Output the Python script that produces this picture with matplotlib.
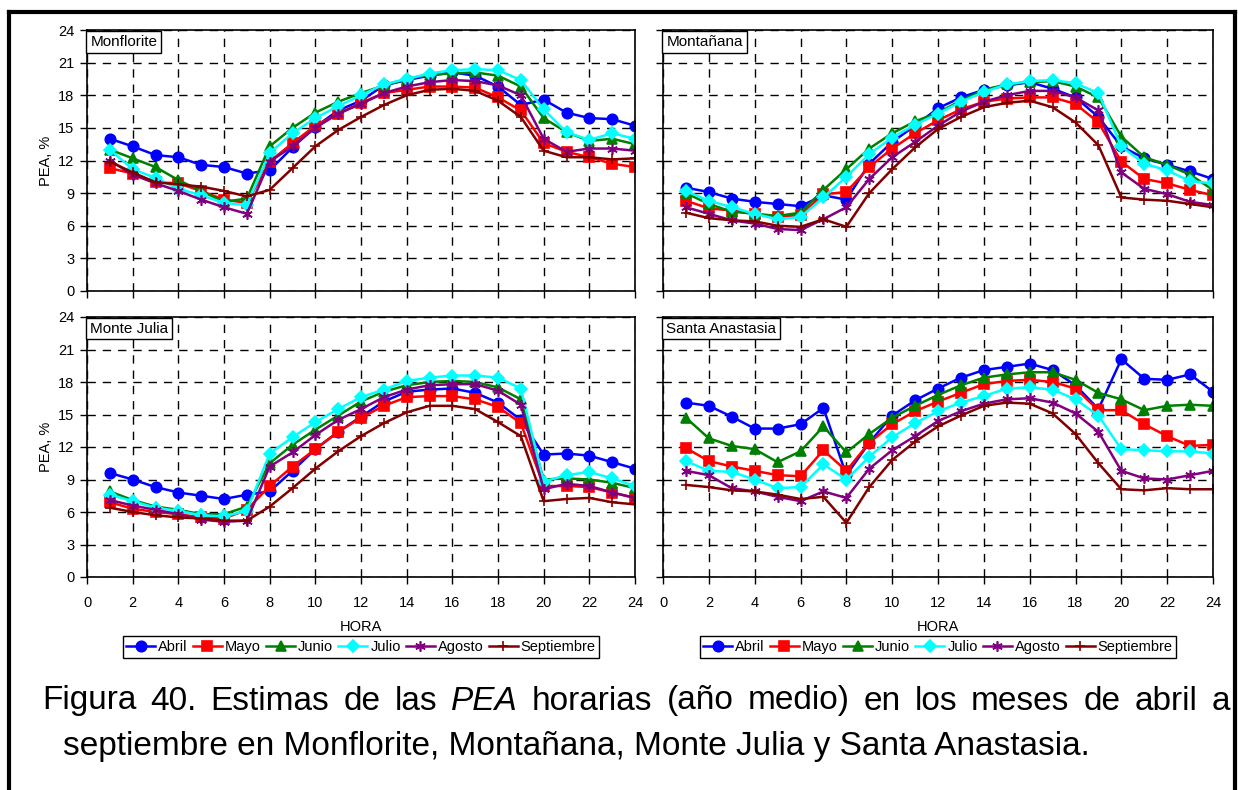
"""
Estimas de las PEA horarias (año medio), abril a septiembre, cuatro estaciones.
"""
import numpy as np
import matplotlib.pyplot as plt
from matplotlib.lines import Line2D

plt.rcParams['font.family'] = ['Liberation Sans', 'DejaVu Sans']

hours = np.arange(1, 25)
months = ['Abril', 'Mayo', 'Junio', 'Julio', 'Agosto', 'Septiembre']
colors = ['#0000FF', '#FF0000', '#008000', '#00FFFF', '#800080', '#800000']
markers = ['o', 's', '^', 'D', (6, 2, 0), '+']

# PEA, % (one row per month, hours 1..24)
monflorite = [
    [14.0, 13.3, 12.5, 12.3, 11.6, 11.4, 10.8, 11.1, 13.2, 15.1, 16.6, 17.5, 18.9, 19.4, 19.8, 20.1, 19.8, 18.8, 17.1, 17.6, 16.4, 15.9, 15.8, 15.2],
    [11.3, 10.8, 10.0, 9.9, 9.2, 8.4, 8.1, 11.9, 13.6, 15.2, 16.3, 17.3, 18.2, 18.5, 18.8, 18.8, 18.7, 17.8, 16.6, 13.6, 12.8, 12.3, 11.7, 11.4],
    [13.0, 12.2, 11.4, 10.2, 9.2, 8.2, 8.5, 13.3, 15.0, 16.4, 17.4, 18.2, 18.9, 19.5, 19.9, 20.0, 20.1, 19.8, 18.8, 15.9, 14.6, 13.8, 14.0, 13.5],
    [13.0, 11.2, 10.4, 9.4, 8.8, 8.1, 7.9, 12.7, 14.5, 15.9, 17.0, 18.0, 19.0, 19.5, 20.0, 20.3, 20.4, 20.3, 19.4, 16.7, 14.6, 13.9, 14.5, 14.0],
    [12.0, 10.7, 9.9, 9.2, 8.4, 7.7, 7.1, 11.9, 13.3, 15.0, 16.3, 17.2, 18.2, 18.8, 19.2, 19.4, 19.3, 18.9, 18.0, 14.0, 12.8, 13.1, 13.1, 12.9],
    [11.9, 10.9, 10.0, 9.8, 9.6, 9.2, 8.7, 9.3, 11.3, 13.3, 14.8, 16.0, 17.1, 18.0, 18.5, 18.6, 18.4, 17.5, 16.0, 12.9, 12.3, 12.3, 12.1, 12.2],
]
montanana = [
    [9.5, 9.1, 8.5, 8.2, 8.0, 7.8, 8.8, 8.4, 11.7, 13.7, 15.2, 16.8, 17.8, 18.5, 18.9, 19.2, 18.6, 17.8, 16.0, 13.3, 12.2, 11.6, 11.0, 10.3],
    [8.3, 7.6, 7.4, 7.1, 6.8, 7.0, 8.9, 9.1, 11.4, 13.1, 14.5, 15.7, 16.7, 17.4, 17.7, 17.8, 17.8, 17.2, 15.5, 11.9, 10.3, 9.9, 9.3, 8.8],
    [9.0, 8.0, 7.3, 7.1, 6.9, 7.2, 9.3, 11.2, 13.1, 14.5, 15.6, 16.4, 17.5, 18.5, 19.0, 19.2, 19.3, 18.8, 17.8, 14.2, 12.3, 11.6, 10.7, 9.3],
    [9.2, 8.3, 7.7, 7.1, 6.6, 6.8, 8.6, 10.5, 12.6, 14.1, 15.3, 16.3, 17.4, 18.3, 19.0, 19.3, 19.4, 19.1, 18.2, 13.3, 11.7, 11.1, 10.1, 9.9],
    [7.7, 7.1, 6.5, 6.2, 5.7, 5.6, 6.6, 7.7, 10.3, 12.3, 13.7, 15.2, 16.5, 17.4, 18.0, 18.4, 18.4, 17.8, 16.6, 10.9, 9.4, 8.9, 8.2, 7.9],
    [7.2, 6.7, 6.5, 6.4, 6.0, 5.9, 6.6, 5.9, 9.0, 11.2, 13.2, 14.9, 16.0, 16.9, 17.3, 17.5, 16.9, 15.5, 13.4, 8.6, 8.4, 8.3, 8.0, 7.7],
]
monte_julia = [
    [9.6, 9.0, 8.3, 7.8, 7.5, 7.2, 7.6, 7.9, 9.8, 11.8, 13.4, 14.8, 16.2, 17.1, 17.3, 17.4, 17.0, 16.1, 14.5, 11.3, 11.4, 11.2, 10.6, 10.0],
    [6.9, 6.3, 6.0, 5.8, 5.5, 5.4, 6.2, 8.4, 10.2, 11.8, 13.4, 14.7, 15.8, 16.6, 16.7, 16.7, 16.4, 15.7, 14.2, 8.4, 8.4, 8.3, 7.8, 7.3],
    [7.9, 7.1, 6.5, 6.2, 5.8, 5.8, 6.5, 10.5, 12.2, 13.6, 14.9, 16.2, 17.1, 17.7, 18.0, 18.1, 18.0, 17.5, 16.4, 9.0, 9.1, 9.0, 8.7, 8.2],
    [7.6, 7.0, 6.4, 6.1, 5.7, 5.6, 6.1, 11.4, 12.9, 14.3, 15.5, 16.6, 17.3, 18.1, 18.4, 18.6, 18.6, 18.4, 17.4, 8.8, 9.4, 9.7, 9.1, 8.4],
    [7.1, 6.6, 6.2, 5.8, 5.3, 5.1, 5.2, 10.2, 11.5, 13.1, 14.5, 15.5, 16.6, 17.3, 17.7, 17.8, 17.8, 17.2, 15.9, 8.1, 8.6, 8.4, 7.8, 7.3],
    [6.4, 6.0, 5.7, 5.5, 5.4, 5.2, 5.2, 6.5, 8.2, 10.0, 11.6, 13.0, 14.2, 15.2, 15.8, 15.8, 15.5, 14.3, 13.0, 7.0, 7.2, 7.3, 6.9, 6.7],
]
santa_anastasia = [
    [16.1, 15.8, 14.8, 13.7, 13.7, 14.1, 15.6, 9.4, 12.4, 14.9, 16.3, 17.4, 18.4, 19.1, 19.4, 19.7, 19.1, 17.7, 15.5, 20.1, 18.3, 18.2, 18.7, 17.1],
    [11.9, 10.7, 10.2, 9.8, 9.4, 9.3, 11.7, 9.8, 12.4, 14.1, 15.3, 16.2, 17.0, 17.8, 18.1, 18.2, 18.0, 17.4, 15.4, 15.4, 14.1, 13.0, 12.1, 12.2],
    [14.7, 12.8, 12.1, 11.8, 10.6, 11.6, 13.9, 11.5, 13.2, 14.7, 15.8, 16.8, 17.7, 18.4, 18.7, 18.9, 18.9, 18.2, 17.0, 16.4, 15.4, 15.8, 15.9, 15.8],
    [10.7, 9.8, 9.7, 9.0, 8.2, 8.3, 10.4, 9.0, 11.1, 12.9, 14.2, 15.3, 16.1, 16.7, 17.4, 17.5, 17.3, 16.4, 14.9, 11.8, 11.7, 11.6, 11.6, 11.4],
    [9.8, 9.4, 8.2, 7.9, 7.4, 7.0, 7.9, 7.3, 10.0, 11.7, 13.0, 14.4, 15.3, 16.0, 16.4, 16.5, 16.1, 15.1, 13.4, 9.8, 9.1, 9.0, 9.4, 9.8],
    [8.5, 8.3, 8.0, 7.9, 7.6, 7.2, 7.4, 5.0, 8.3, 10.8, 12.5, 13.9, 14.9, 15.8, 16.1, 16.0, 15.1, 13.2, 10.5, 8.1, 8.0, 8.2, 8.1, 8.1],
]
stations = ['Monflorite', 'Montañana', 'Monte Julia', 'Santa Anastasia']
station_data = [monflorite, montanana, monte_julia, santa_anastasia]

W, H = 1239, 790
fig = plt.figure(figsize=(W / 100, H / 100), dpi=100)


def px_axes(x0, y0, x1, y1):
    return fig.add_axes([x0 / W, 1 - y1 / H, (x1 - x0) / W, (y1 - y0) / H])


boxes = [(87, 30, 635, 291), (663, 30, 1213, 291),
         (87, 317, 635, 577), (663, 317, 1213, 577)]

for i, (name, data) in enumerate(zip(stations, station_data)):
    ax = px_axes(*boxes[i])
    for vals, m, c, mk in zip(data, months, colors, markers):
        ms = 7.5
        if mk == 'D':
            ms = 6
        ax.plot(hours, vals, color=c, marker=mk, markersize=ms, linewidth=1.8,
                markeredgecolor=c, markerfacecolor=c, markeredgewidth=1.2, label=m)
    ax.set_xlim(0, 24)
    ax.set_ylim(0, 24)
    ax.set_xticks(np.arange(0, 25, 2))
    ax.set_yticks(np.arange(0, 25, 3))
    ax.grid(True, color='black', linestyle=(0, (6, 5)), linewidth=1)
    ax.set_axisbelow(True)
    ax.tick_params(direction='out', length=5, width=1, labelsize=10.5, pad=4)
    for s in ax.spines.values():
        s.set_linewidth(1.2)
        s.set_color('black')
    if i % 2 == 1:
        ax.tick_params(labelleft=False)
    else:
        ax.set_ylabel('PEA, %', fontsize=10.5, labelpad=4)
    if i < 2:
        ax.tick_params(labelbottom=False)
    else:
        ax.tick_params(axis='x', pad=9)
        ax.set_xlabel('HORA', fontsize=10.5, labelpad=7)
        leg = ax.legend(loc='upper center', bbox_to_anchor=(0.5, -0.228), ncol=6,
                        fontsize=10.5, handlelength=2.0, handletextpad=0.2,
                        columnspacing=0.35, borderpad=0.25, fancybox=False,
                        edgecolor='black', framealpha=1, borderaxespad=0)
        leg.get_frame().set_linewidth(1)
    ax.text(0.006, 0.982, name, transform=ax.transAxes, ha='left', va='top',
            fontsize=11, zorder=10,
            bbox=dict(boxstyle='square,pad=0.25', facecolor='white',
                      edgecolor='black', linewidth=1))

# figure frame
frame_kw = dict(color='black', linewidth=3, transform=fig.transFigure)
fig.add_artist(Line2D([9 / W, 9 / W], [0, 1 - 12 / H], **frame_kw))
fig.add_artist(Line2D([9 / W, 1235 / W], [1 - 12 / H, 1 - 12 / H], **frame_kw))
fig.add_artist(Line2D([1235 / W, 1235 / W], [0, 1 - 12 / H], **frame_kw))

# caption, first line justified
cap_size = 24
words1 = ['Figura', '40.', 'Estimas', 'de', 'las', 'PEA', 'horarias', '(año',
          'medio)', 'en', 'los', 'meses', 'de', 'abril', 'a']
line2 = 'septiembre en Monflorite, Montañana, Monte Julia y Santa Anastasia.'
x_start, x_end, y1, y2 = 42, 1230, 701, 746

fig.canvas.draw()
renderer = fig.canvas.get_renderer()
texts = []
for w in words1:
    t = fig.text(0, 1 - y1 / H, w, fontsize=cap_size, va='center', ha='left',
                 style='italic' if w == 'PEA' else 'normal')
    texts.append(t)
widths = [t.get_window_extent(renderer).width for t in texts]
gap = (x_end - x_start - sum(widths)) / (len(words1) - 1)
x = x_start
for t, wd in zip(texts, widths):
    t.set_x(x / W)
    x += wd + gap
fig.text(63 / W, 1 - y2 / H, line2, fontsize=cap_size, va='center', ha='left')

fig.savefig('out.png', dpi=100)
